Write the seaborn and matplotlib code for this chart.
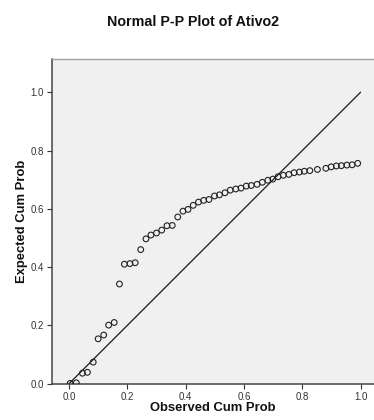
import matplotlib
matplotlib.use("Agg")
import matplotlib.pyplot as plt
import seaborn as sns
import pandas as pd

observed = [0.004, 0.025, 0.046, 0.063, 0.083, 0.100, 0.119, 0.136, 0.155, 0.173,
            0.190, 0.209, 0.227, 0.246, 0.264, 0.281, 0.300, 0.318, 0.336, 0.354,
            0.373, 0.391, 0.408, 0.426, 0.444, 0.462, 0.480, 0.499, 0.516, 0.535,
            0.553, 0.572, 0.590, 0.608, 0.625, 0.645, 0.663, 0.682, 0.699, 0.717,
            0.735, 0.754, 0.772, 0.790, 0.807, 0.826, 0.852, 0.881, 0.899, 0.917,
            0.934, 0.953, 0.971, 0.990]
expected = [0.001, 0.003, 0.036, 0.039, 0.074, 0.154, 0.167, 0.201, 0.210, 0.342,
            0.410, 0.412, 0.415, 0.460, 0.497, 0.510, 0.517, 0.527, 0.542, 0.543,
            0.572, 0.592, 0.598, 0.612, 0.623, 0.629, 0.632, 0.644, 0.648, 0.655,
            0.664, 0.668, 0.671, 0.678, 0.680, 0.684, 0.691, 0.698, 0.702, 0.710,
            0.715, 0.718, 0.724, 0.726, 0.729, 0.731, 0.735, 0.739, 0.744, 0.747,
            0.748, 0.750, 0.751, 0.756]
ref_x = [0.0, 1.0]
ref_y = [0.0, 1.0]
ticks = [0.0, 0.2, 0.4, 0.6, 0.8, 1.0]
tick_labels = ["0.0", "0.2", "0.4", "0.6", "0.8", "1.0"]

sns.set_theme(style="white")
plt.rcParams['font.family'] = ['Liberation Sans', 'DejaVu Sans']

fig = plt.figure(figsize=(3.74, 4.2), dpi=100)
fig.patch.set_facecolor("white")
ax = fig.add_axes([52/374, 1 - 383.7/420, 1 - 52/374, (383.7 - 59)/420])
ax.set_facecolor("#f0f0f0")

df = pd.DataFrame({"obs": observed, "exp": expected})
sns.lineplot(x=ref_x, y=ref_y, ax=ax, color="#1a1a1a", linewidth=0.9, zorder=2)
sns.scatterplot(data=df, x="obs", y="exp", ax=ax, marker="o", s=17,
                facecolor="none", edgecolor="#222222", linewidth=0.8, zorder=3)

ax.set_xlim(-0.0583, 1.046)
ax.set_ylim(0.0, 1.114)
ax.set_xticks(ticks)
ax.set_xticklabels(tick_labels)
ax.set_yticks(ticks)
ax.set_yticklabels(tick_labels)
ax.tick_params(axis="both", which="both", direction="out", length=3.3, width=0.8,
               color="#333333", labelsize=7, labelcolor="#333333", pad=2.5,
               bottom=True, left=True, top=False, right=False)

for side in ["left", "bottom"]:
    ax.spines[side].set_color("#444444")
    ax.spines[side].set_linewidth(1.1)
ax.spines["top"].set_color("#a0a0a0")
ax.spines["top"].set_linewidth(1.0)
ax.spines["right"].set_visible(False)

ax.set_xlabel("Observed Cum Prob", fontsize=9.4, fontweight="bold", color="#111111", labelpad=0.5)
ax.set_ylabel("Expected Cum Prob", fontsize=9.4, fontweight="bold", color="#111111", labelpad=1.5)

fig.text(193.5/374, 1 - 22/420, "Normal P-P Plot of Ativo2", ha="center", va="center",
         fontsize=10.3, fontweight="bold", color="#111111")

fig.savefig("out.png", dpi=100)
